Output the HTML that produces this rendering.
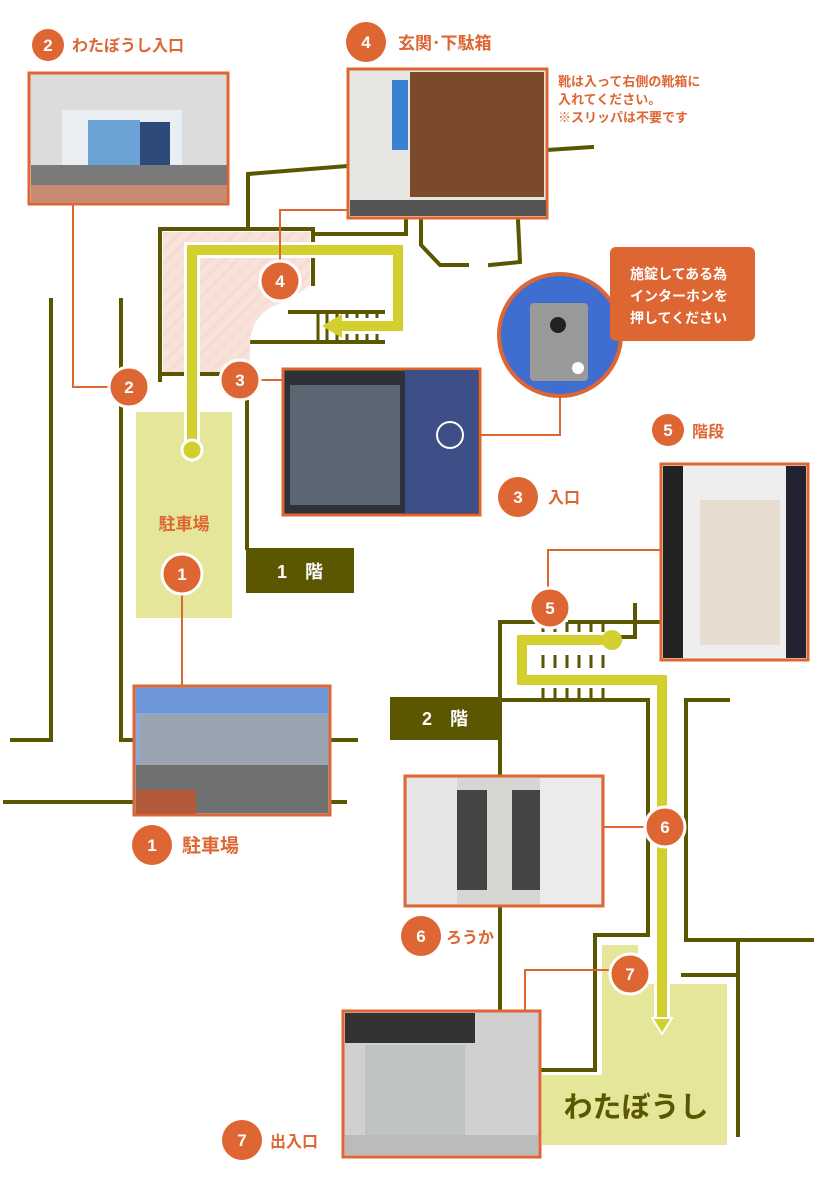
<!DOCTYPE html>
<html><head><meta charset="utf-8"><style>
html,body{margin:0;padding:0;background:#fff;}
svg{display:block;}
text{font-family:"Liberation Sans","Noto Sans CJK JP",sans-serif;font-weight:bold;}
</style></head><body>
<svg width="830" height="1200" viewBox="0 0 830 1200" xmlns="http://www.w3.org/2000/svg">
<defs>
<pattern id="st" width="10" height="10" patternUnits="userSpaceOnUse" patternTransform="rotate(45)">
<rect width="10" height="10" fill="#f8e3da"/><rect width="4" height="10" fill="#f5ddd3"/></pattern>
</defs>
<g fill="none" stroke="#5a5700" stroke-width="4" stroke-linecap="square">
<path d="M51 300V740H12"/>
<path d="M121 300V740H133"/>
<path d="M330 740H356"/>
<path d="M5 802H133"/>
<path d="M330 802H345"/>
<path d="M160 380V229H313V284"/>
<path d="M248 229V174L347 166"/>
<path d="M313 234H406V218"/>
<path d="M290 312H383"/>
<path d="M248 358V320Q248 300 262 290"/>
<path d="M248 342H383"/>
<path d="M160 374H183M200 374H218"/>
<path d="M247 402V548"/>
<path d="M547 150L592 147"/>
<path d="M421 220V245L440 265H467"/>
<path d="M490 265L520 262L518 220"/>
<path d="M500 1008V622H542M570 622H660"/>
<path d="M535 637H635V605"/>
<path d="M500 700H648V935H595V1070H542"/>
<path d="M686 700H728"/>
<path d="M686 700V940H812"/>
<path d="M738 940V1135"/>
<path d="M683 975H738"/>
</g>
<path d="M163 232H310V285L290 300Q250 310 250 345V372H163Z" fill="url(#st)"/>
<g stroke="#5a5700" stroke-width="3">
<path d="M318 312V342M327 312V342M337 312V342M347 312V342M357 312V342M367 312V342M377 312V342"/>
<path d="M543 622V645M555 622V645M567 622V645M579 622V645M591 622V645M603 622V645"/>
<path d="M543 655V668M555 655V668M567 655V668M579 655V668M591 655V668M603 655V668"/>
<path d="M543 688V700M555 688V700M567 688V700M579 688V700M591 688V700M603 688V700"/>
</g>
<rect x="136" y="412" width="96" height="206" fill="#e5e699"/>
<text x="184" y="530" font-size="17" fill="#dd6633" text-anchor="middle">駐車場</text>
<path d="M602 945H638V984H727V1145H542V1075H602Z" fill="#e5e699"/>
<text x="636" y="1117" font-size="29" fill="#5a5700" text-anchor="middle">わたぼうし</text>
<g fill="none" stroke-linejoin="miter">
<path d="M192 450V250H398V326H335" stroke="#fff" stroke-width="16"/>
<path d="M192 450V250H398V326H335" stroke="#d3cf2f" stroke-width="10"/>
<path d="M612 640H522V680H662V1020" stroke="#fff" stroke-width="16"/>
<path d="M612 640H522V680H662V1020" stroke="#d3cf2f" stroke-width="10"/>
</g>
<circle cx="192" cy="450" r="10" fill="#d3cf2f" stroke="#fff" stroke-width="3"/>
<circle cx="612" cy="640" r="10" fill="#d3cf2f"/>
<path d="M342 314L322 326L342 338Z" fill="#d3cf2f"/>
<path d="M652 1018H672L662 1034Z" fill="#d3cf2f" stroke="#fff" stroke-width="2"/>
<rect x="246" y="548" width="108" height="45" fill="#5a5700"/>
<text x="300" y="578" font-size="18" fill="#fff" text-anchor="middle">1　階</text>
<rect x="390" y="697" width="110" height="43" fill="#5a5700"/>
<text x="445" y="725" font-size="18" fill="#fff" text-anchor="middle">2　階</text>
<g fill="none" stroke="#dd6633" stroke-width="2">
<path d="M73 205V387H110"/>
<path d="M280 300V210H347"/>
<path d="M258 380H282"/>
<path d="M182 580V685"/>
<path d="M462 435H560V398"/>
<path d="M548 598V550H660"/>
<path d="M603 827H650"/>
<path d="M525 1010V970H610"/>
</g>
<g stroke="#dd6633" stroke-width="3">
<rect x="29" y="73" width="199" height="131" fill="#dcdcdc"/>
<rect x="348" y="69" width="199" height="149" fill="#e8e6e2"/>
<rect x="283" y="369" width="197" height="146" fill="#2d3238"/>
<rect x="661" y="464" width="147" height="196" fill="#eeeeee"/>
<rect x="134" y="686" width="196" height="129" fill="#8aa7d8"/>
<rect x="405" y="776" width="198" height="130" fill="#d8d6d2"/>
<rect x="343" y="1011" width="197" height="146" fill="#d0d0d0"/>
</g>
<rect x="31" y="165" width="196" height="38" fill="#7a7a7a"/>
<rect x="62" y="110" width="120" height="55" fill="#e9eef2"/><rect x="88" y="120" width="52" height="45" fill="#6da2d6"/><rect x="140" y="122" width="30" height="43" fill="#2e4a78"/>
<rect x="31" y="185" width="196" height="18" fill="#c98a74"/>
<rect x="350" y="200" width="196" height="16" fill="#555"/>
<rect x="410" y="72" width="134" height="125" fill="#7a4a2a"/><rect x="392" y="80" width="16" height="70" fill="#3a82d0"/>
<rect x="405" y="370" width="73" height="143" fill="#3d4f86"/><rect x="290" y="385" width="110" height="120" fill="#5a6672"/>
<rect x="663" y="466" width="20" height="192" fill="#222"/><rect x="786" y="466" width="20" height="192" fill="#223"/><rect x="700" y="500" width="80" height="145" fill="#e6dcd0"/>
<rect x="136" y="688" width="192" height="25" fill="#6d97d8"/><rect x="140" y="715" width="188" height="50" fill="#9aa4b0"/><rect x="136" y="765" width="192" height="48" fill="#707070"/><rect x="136" y="790" width="60" height="24" fill="#b35a3a"/>
<rect x="407" y="778" width="50" height="126" fill="#e6e6e6"/><rect x="540" y="778" width="61" height="126" fill="#ecebea"/><rect x="457" y="790" width="30" height="100" fill="#444"/><rect x="512" y="790" width="28" height="100" fill="#444"/>
<rect x="345" y="1013" width="130" height="30" fill="#333"/><rect x="365" y="1045" width="100" height="90" fill="#bfc3c4"/><rect x="345" y="1135" width="193" height="20" fill="#bbb"/>
<circle cx="560" cy="335" r="61" fill="#3f6ed0" stroke="#dd6633" stroke-width="4"/>
<rect x="530" y="303" width="58" height="78" rx="4" fill="#9a9a9a"/>
<circle cx="558" cy="325" r="8" fill="#222"/><circle cx="578" cy="368" r="6" fill="#fff"/>
<rect x="610" y="247" width="145" height="94" rx="6" fill="#dd6633"/>
<text font-size="14" fill="#fff"><tspan x="630" y="279">施錠してある為</tspan><tspan x="630" y="301">インターホンを</tspan><tspan x="630" y="323">押してください</tspan></text>
<text font-size="13" fill="#dd6633"><tspan x="558" y="86">靴は入って右側の靴箱に</tspan><tspan x="558" y="104">入れてください。</tspan><tspan x="558" y="122">※スリッパは不要です</tspan></text>
<circle cx="450" cy="435" r="13" fill="none" stroke="#fff" stroke-width="2"/>
<g fill="#dd6633" stroke="#fff" stroke-width="3">
<circle cx="48" cy="45" r="16" stroke="none"/>
<circle cx="366" cy="42" r="20" stroke="none"/>
<circle cx="129" cy="387" r="20"/>
<circle cx="280" cy="281" r="20"/>
<circle cx="240" cy="380" r="20"/>
<circle cx="182" cy="574" r="20"/>
<circle cx="518" cy="497" r="20" stroke="none"/>
<circle cx="668" cy="430" r="16" stroke="none"/>
<circle cx="550" cy="608" r="20"/>
<circle cx="152" cy="845" r="20" stroke="none"/>
<circle cx="665" cy="827" r="20"/>
<circle cx="421" cy="936" r="20" stroke="none"/>
<circle cx="630" cy="974" r="20"/>
<circle cx="242" cy="1140" r="20" stroke="none"/>
</g>
<g fill="#fff" font-size="17" text-anchor="middle">
<text x="48" y="51">2</text><text x="366" y="48">4</text><text x="129" y="393">2</text><text x="280" y="287">4</text><text x="240" y="386">3</text><text x="182" y="580">1</text><text x="518" y="503">3</text><text x="668" y="436">5</text><text x="550" y="614">5</text><text x="152" y="851">1</text><text x="665" y="833">6</text><text x="421" y="942">6</text><text x="630" y="980">7</text><text x="242" y="1146">7</text>
</g>
<g fill="#dd6633">
<text x="72" y="51" font-size="16">わたぼうし入口</text>
<text x="398" y="49" font-size="17">玄関･下駄箱</text>
<text x="548" y="503" font-size="16">入口</text>
<text x="692" y="437" font-size="16">階段</text>
<text x="182" y="852" font-size="19">駐車場</text>
<text x="446" y="943" font-size="16">ろうか</text>
<text x="270" y="1147" font-size="16">出入口</text>
</g>
</svg>
</body></html>
